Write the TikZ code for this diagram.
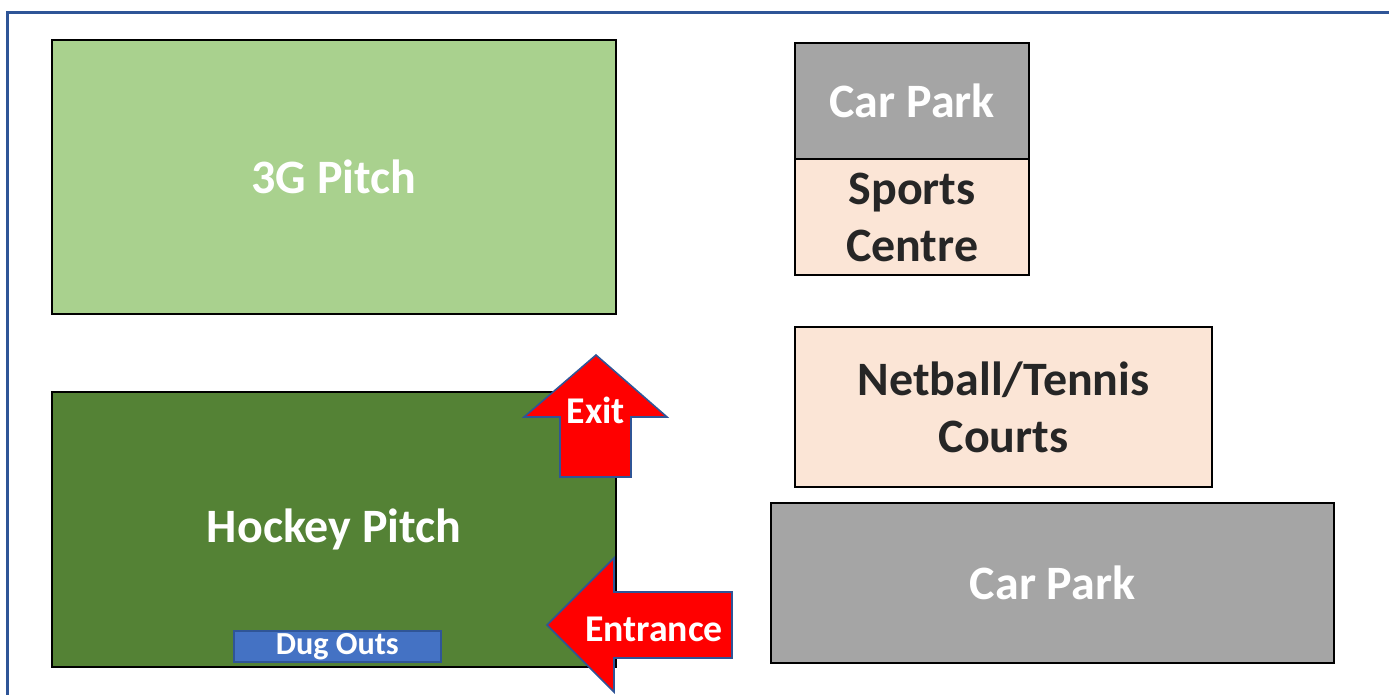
\documentclass[tikz,border=0pt]{standalone}
\usepackage{fontspec}
\setmainfont{Carlito}
\usetikzlibrary{positioning}

\definecolor{frameblue}{HTML}{2F5597}
\definecolor{lightgreen}{HTML}{A9D18E}
\definecolor{darkgreen}{HTML}{548235}
\definecolor{parkgrey}{HTML}{A5A5A5}
\definecolor{peach}{HTML}{FBE5D6}
\definecolor{dugblue}{HTML}{4472C4}
\definecolor{darktext}{HTML}{262626}

\begin{document}
\begin{tikzpicture}[x=0.02cm, y=-0.02cm,
	zone/.style={draw=black, line width=1.3pt, anchor=north west, inner sep=0pt,
		align=center, font=\bfseries\fontsize{27.3}{32.5}\selectfont},
	sign/.style={fill=red, draw=frameblue, line width=0.9pt, line join=miter},
	signtext/.style={text=white, font=\bfseries\fontsize{21.5}{25}\selectfont, inner sep=0pt}]
	\useasboundingbox (0,0) rectangle (1389,694);
	
	% outer frame
	\draw[frameblue, line width=1.8pt] (7.5,720) -- (7.5,12.5) -- (1400,12.5);
	
	% pitches
	\node[zone, fill=lightgreen, text=white, minimum width=11.28cm, minimum height=5.48cm] (pitchG) at (51,39) {3G Pitch};
	\node[zone, fill=darkgreen, text=white, minimum width=11.28cm, minimum height=5.5cm] (hockey) at (51,391) {Hockey Pitch};
	\node[draw=frameblue, line width=0.9pt, fill=dugblue, text=white, anchor=north west, inner sep=0pt,
		minimum width=4.14cm, minimum height=0.62cm, font=\bfseries\fontsize{18.3}{20}\selectfont] (dugouts) at (233,630) {\raisebox{-1pt}{Dug Outs}};
	
	% buildings
	\node[zone, fill=parkgrey, text=white, minimum width=4.68cm, minimum height=2.32cm] (parkTop) at (794,42) {Car Park};
	\node[zone, fill=peach, text=darktext, minimum width=4.68cm, minimum height=2.32cm] (sports) at (794,158) {Sports\\Centre};
	\node[zone, fill=peach, text=darktext, minimum width=8.34cm, minimum height=3.2cm] (courts) at (794,326) {Netball/Tennis\\Courts};
	\node[zone, fill=parkgrey, text=white, minimum width=11.26cm, minimum height=3.2cm] (parkLow) at (770,502) {Car Park};
	
	% exit arrow
	\draw[sign] (596,355) -- (667,417) -- (631,417) -- (631,477) -- (560,477) -- (560,417) -- (524,417) -- cycle;
	\node[signtext] (exit) at (596,410) {Exit};
	
	% entrance arrow
	\draw[sign] (547,625) -- (614,558) -- (614,592) -- (732,592) -- (732,658) -- (614,658) -- (614,692) -- cycle;
	\node[signtext] (entrance) at (654,629) {Entrance};
\end{tikzpicture}
\end{document}
